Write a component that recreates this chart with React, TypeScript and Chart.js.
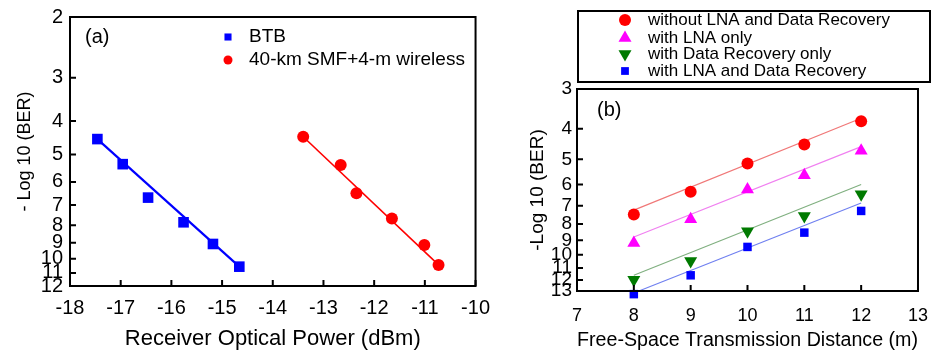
import React, { useEffect, useRef } from 'react';
import { Chart, registerables } from 'chart.js';
Chart.register(...registerables);

const FONT = "'Liberation Sans', Arial, Helvetica, sans-serif";

// ---------- Panel (a) data ----------
const aXTicks = [-18, -17, -16, -15, -14, -13, -12, -11, -10];
const aYTicks = [2, 3, 4, 5, 6, 7, 8, 9, 10, 11, 12];
const btbPower = [-17.46, -16.96, -16.46, -15.76, -15.18, -14.66];
const btbBer = [4.51, 5.33, 6.66, 7.85, 9.07, 10.55];
const btbFitPower = [-17.46, -14.66];
const btbFitBer = [4.51, 10.55];
const smfPower = [-13.4, -12.66, -12.35, -11.65, -11.01, -10.73];
const smfBer = [4.44, 5.36, 6.47, 7.66, 9.13, 10.43];
const smfFitPower = [-13.4, -10.73];
const smfFitBer = [4.44, 10.43];
const aLegendLabels = ['BTB', '40-km SMF+4-m wireless'];

// ---------- Panel (b) data ----------
const bXTicks = [7, 8, 9, 10, 11, 12, 13];
const bYTicks = [3, 4, 5, 6, 7, 8, 9, 10, 11, 12, 13];
const distances = [8, 9, 10, 11, 12];
const withoutBoth = [7.46, 6.33, 5.15, 4.49, 3.79];
const lnaOnly = [9.17, 7.72, 6.22, 5.61, 4.7];
const drOnly = [11.97, 10.45, 8.42, 7.54, 6.44];
const withBoth = [13.3, 11.6, 9.44, 8.51, 7.27];
const fitDistances = [8, 12];
const withoutBothFit = [7.23, 3.71];
const lnaOnlyFit = [8.78, 4.56];
const drOnlyFit = [11.6, 6.0];
const withBothFit = [13.19, 6.86];
const bLegendLabels = [
  'without LNA and Data Recovery',
  'with LNA only',
  'with Data Recovery only',
  'with LNA and Data Recovery',
];

const pts = (xs: number[], ys: number[]) => xs.map((x, i) => ({ x, y: ys[i] }));

function drawMarker(ctx: CanvasRenderingContext2D, style: string, x: number, y: number, r: number, color: string) {
  ctx.fillStyle = color;
  ctx.beginPath();
  if (style === 'circle') {
    ctx.arc(x, y, r, 0, Math.PI * 2);
  } else if (style === 'rect') {
    const s = r * Math.SQRT1_2;
    ctx.rect(x - s, y - s, 2 * s, 2 * s);
  } else if (style === 'triangle') {
    ctx.moveTo(x, y - r);
    ctx.lineTo(x + 0.866 * r, y + 0.5 * r);
    ctx.lineTo(x - 0.866 * r, y + 0.5 * r);
    ctx.closePath();
  } else if (style === 'triangleDown') {
    ctx.moveTo(x, y + r);
    ctx.lineTo(x + 0.866 * r, y - 0.5 * r);
    ctx.lineTo(x - 0.866 * r, y - 0.5 * r);
    ctx.closePath();
  }
  ctx.fill();
}

const framePlugin = {
  id: 'frameTicks',
  afterDatasetsDraw(chart: any) {
    const { ctx, chartArea } = chart;
    const { left, top, right, bottom } = chartArea;
    ctx.save();
    ctx.strokeStyle = '#000';
    ctx.lineWidth = 2;
    ctx.strokeRect(left, top, right - left, bottom - top);
    ctx.beginPath();
    const xs = chart.scales.x;
    const ys = chart.scales.y;
    xs.ticks.forEach((t: any) => {
      const px = xs.getPixelForValue(t.value);
      ctx.moveTo(px, bottom);
      ctx.lineTo(px, bottom - 6);
    });
    ys.ticks.forEach((t: any) => {
      const py = ys.getPixelForValue(t.value);
      ctx.moveTo(left, py);
      ctx.lineTo(left + 6, py);
    });
    ctx.stroke();
    ctx.restore();
  },
};

const overlayPlugin = {
  id: 'overlay',
  afterDraw(chart: any, _args: any, opts: any) {
    const ctx: CanvasRenderingContext2D = chart.ctx;
    ctx.save();
    if (opts.box) {
      const b = opts.box;
      ctx.strokeStyle = '#000';
      ctx.lineWidth = 2;
      ctx.strokeRect(b.x, b.y, b.w, b.h);
    }
    ctx.textBaseline = 'middle';
    ctx.textAlign = 'left';
    ctx.fillStyle = '#000';
    ctx.font = `${opts.fontSize}px ${FONT}`;
    (opts.items || []).forEach((it: any) => {
      drawMarker(ctx, it.style, opts.markerX, it.y, it.r, it.color);
      ctx.fillStyle = '#000';
      ctx.fillText(it.text, opts.textX, it.y);
    });
    if (opts.tag) {
      ctx.font = `${opts.tag.size}px ${FONT}`;
      ctx.fillStyle = '#000';
      ctx.fillText(opts.tag.text, opts.tag.x, opts.tag.y);
    }
    ctx.restore();
  },
};

function axisX(min: number, max: number, ticks: number[], title: string, tickSize: number, tickPad: number, titleSize: number, height: number) {
  return {
    type: 'linear',
    min,
    max,
    afterBuildTicks: (s: any) => {
      s.ticks = ticks.map((v) => ({ value: v }));
    },
    afterFit: (s: any) => {
      s.height = height;
    },
    grid: { display: false, drawTicks: false },
    border: { display: false },
    ticks: {
      font: { family: FONT, size: tickSize },
      color: '#000',
      padding: tickPad,
      maxRotation: 0,
      autoSkip: false,
      callback: (v: any) => String(v),
    },
    title: {
      display: true,
      text: title,
      color: '#000',
      font: { family: FONT, size: titleSize, lineHeight: 1 },
      padding: { top: 0, bottom: 0 },
    },
  };
}

function axisY(min: number, max: number, ticks: number[], title: string, tickSize: number, tickPad: number, titleSize: number, titlePad: number, width: number) {
  return {
    type: 'logarithmic',
    min,
    max,
    reverse: true,
    afterBuildTicks: (s: any) => {
      s.ticks = ticks.map((v) => ({ value: v }));
    },
    afterFit: (s: any) => {
      s.width = width;
    },
    grid: { display: false, drawTicks: false },
    border: { display: false },
    ticks: {
      font: { family: FONT, size: tickSize, lineHeight: 1 },
      color: '#000',
      padding: tickPad,
      autoSkip: false,
      callback: (v: any) => String(v),
    },
    title: {
      display: true,
      text: title,
      color: '#000',
      font: { family: FONT, size: titleSize, lineHeight: 1 },
      padding: { top: titlePad, bottom: 0 },
    },
  };
}

function markerSet(label: string, xs: number[], ys: number[], color: string, style: string, radius: number, rotation = 0) {
  return {
    label,
    data: pts(xs, ys),
    showLine: false,
    pointStyle: style,
    pointRadius: radius,
    pointHoverRadius: radius,
    pointRotation: rotation,
    pointBackgroundColor: color,
    pointBorderColor: color,
    pointBorderWidth: 0,
    backgroundColor: color,
    borderColor: color,
    clip: false,
    order: 0,
  };
}

function fitSet(xs: number[], ys: number[], color: string, width: number) {
  return {
    label: 'fit',
    data: pts(xs, ys),
    showLine: true,
    pointRadius: 0,
    pointHoverRadius: 0,
    borderColor: color,
    borderWidth: width,
    backgroundColor: color,
    fill: false,
    clip: false,
    order: 1,
  };
}

export default function App() {
  const refA = useRef<HTMLCanvasElement>(null);
  const refB = useRef<HTMLCanvasElement>(null);

  useEffect(() => {
    const chartA = new Chart(refA.current as HTMLCanvasElement, {
      type: 'scatter',
      data: {
        datasets: [
          markerSet(aLegendLabels[0], btbPower, btbBer, '#0000ff', 'rect', 7.5),
          markerSet(aLegendLabels[1], smfPower, smfBer, '#ff0000', 'circle', 6),
          fitSet(btbFitPower, btbFitBer, '#0000ff', 2.2),
          fitSet(smfFitPower, smfFitBer, '#ff0000', 1.6),
        ] as any,
      },
      options: {
        responsive: false,
        animation: false,
        devicePixelRatio: 1,
        layout: { padding: { left: 0, right: 22, top: 17, bottom: 0 } },
        plugins: {
          legend: { display: false },
          tooltip: { enabled: false },
          overlay: {
            fontSize: 19,
            markerX: 228,
            textX: 249,
            items: [
              { style: 'rect', color: '#0000ff', r: 5, y: 37, text: aLegendLabels[0] },
              { style: 'circle', color: '#ff0000', r: 4.5, y: 60, text: aLegendLabels[1] },
            ],
            tag: { text: '(a)', x: 85, y: 37, size: 20 },
          },
        } as any,
        scales: {
          x: axisX(-18, -10, aXTicks, 'Receiver Optical Power (dBm)', 20, 10, 22, 64) as any,
          y: axisY(2, 12, aYTicks, '- Log 10 (BER)', 20, 7, 18, 16, 70) as any,
        },
      },
      plugins: [framePlugin, overlayPlugin],
    });

    const chartB = new Chart(refB.current as HTMLCanvasElement, {
      type: 'scatter',
      data: {
        datasets: [
          markerSet(bLegendLabels[0], distances, withoutBoth, '#ff0000', 'circle', 6),
          markerSet(bLegendLabels[1], distances, lnaOnly, '#ff00ff', 'triangle', 7.5),
          markerSet(bLegendLabels[2], distances, drOnly, '#007a00', 'triangle', 7.5, 180),
          markerSet(bLegendLabels[3], distances, withBoth, '#0000ff', 'rect', 6),
          fitSet(fitDistances, withoutBothFit, '#f07878', 1.2),
          fitSet(fitDistances, lnaOnlyFit, '#f080f0', 1.2),
          fitSet(fitDistances, drOnlyFit, '#80b080', 1.2),
          fitSet(fitDistances, withBothFit, '#7080f0', 1.2),
        ] as any,
      },
      options: {
        responsive: false,
        animation: false,
        devicePixelRatio: 1,
        layout: { padding: { left: 0, right: 13, top: 89, bottom: 0 } },
        plugins: {
          legend: { display: false },
          tooltip: { enabled: false },
          overlay: {
            fontSize: 17,
            markerX: 125,
            textX: 148,
            box: { x: 78, y: 11, w: 352, h: 71 },
            items: [
              { style: 'circle', color: '#ff0000', r: 6, y: 20, text: bLegendLabels[0] },
              { style: 'triangle', color: '#ff00ff', r: 7.5, y: 38, text: bLegendLabels[1] },
              { style: 'triangleDown', color: '#007a00', r: 7.5, y: 54, text: bLegendLabels[2] },
              { style: 'rect', color: '#0000ff', r: 5.5, y: 71, text: bLegendLabels[3] },
            ],
            tag: { text: '(b)', x: 97, y: 110, size: 20 },
          },
        } as any,
        scales: {
          x: axisX(7, 13, bXTicks, 'Free-Space Transmission Distance (m)', 18, 14, 20, 59) as any,
          y: axisY(3, 13, bYTicks, '-Log 10 (BER)', 19, 5, 19, 28, 77) as any,
        },
      },
      plugins: [framePlugin, overlayPlugin],
    });

    return () => {
      chartA.destroy();
      chartB.destroy();
    };
  }, []);

  return (
    <div style={{ position: 'fixed', left: 0, top: 0, width: 942, height: 350, background: '#fff' }}>
      <canvas ref={refA} width={500} height={350} style={{ position: 'absolute', left: 0, top: 0 }} />
      <canvas ref={refB} width={442} height={350} style={{ position: 'absolute', left: 500, top: 0 }} />
    </div>
  );
}
